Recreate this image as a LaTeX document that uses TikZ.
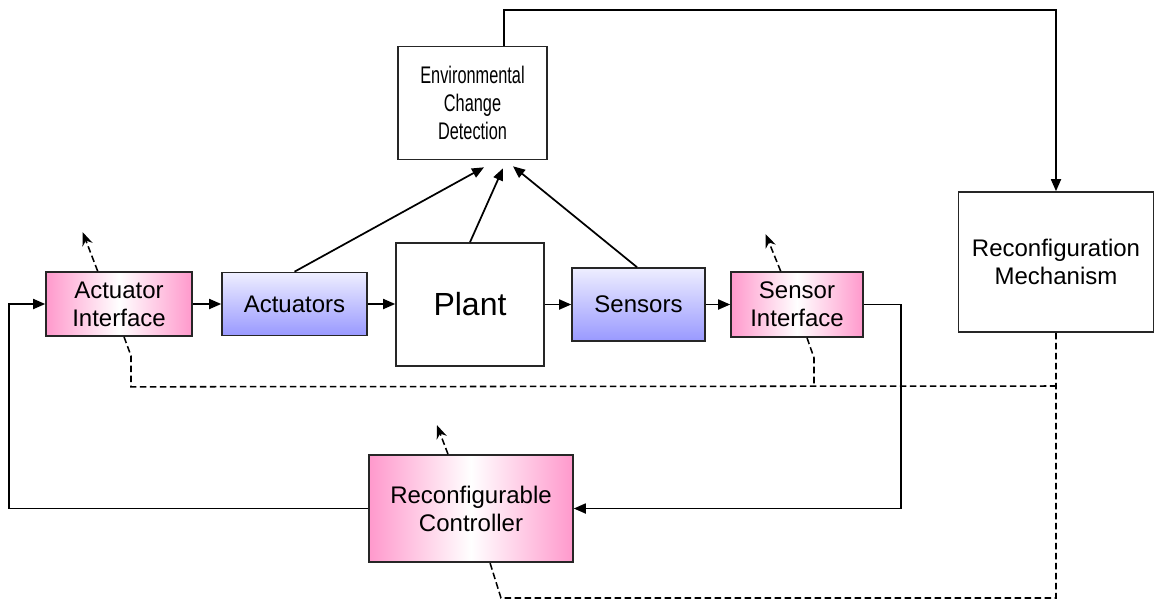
\documentclass[tikz,border=0pt]{standalone}
\usepackage{fontspec}
\setmainfont{Liberation Sans}
\usepackage{graphicx}
\usetikzlibrary{arrows.meta,calc}
\definecolor{pinkc}{HTML}{FF99CC}
\definecolor{bluec}{HTML}{9999FF}
\definecolor{bluel}{HTML}{EEEEFF}
\newcommand{\cond}[1]{\scalebox{0.68}[1]{#1}}
\begin{document}
\begin{tikzpicture}[x=0.75pt,y=-0.75pt,
  box/.style={draw=black!85, line width=1.2pt, align=center, inner sep=0pt,
    font=\fontsize{18}{21}\selectfont, text=black},
  pinkbox/.style={box, left color=pinkc, right color=pinkc, middle color=white},
  bluebox/.style={box, top color=bluel, bottom color=bluec},
  wire/.style={line width=1.3pt, -{Triangle[length=9pt,width=7.5pt]}},
  ctl/.style={line width=1.15pt, dash pattern=on 5pt off 2.5pt},
  ctlarrow/.style={ctl, -{Stealth[length=10pt,width=8pt]}}]
\useasboundingbox (0,0) rectangle (1160,600);

% nodes
\node[box, minimum width=111.75pt, minimum height=84.75pt] (env) at (472.5,103)
  {\cond{Environmental}\\\cond{Change}\\\cond{Detection}};
\node[box, minimum width=146.25pt, minimum height=105pt] (recm) at (1056,262)
  {Reconfiguration\\Mechanism};
\node[pinkbox, minimum width=109.5pt, minimum height=48pt] (actI) at (119,304)
  {Actuator\\Interface};
\node[bluebox, minimum width=108.75pt, minimum height=47.25pt] (act) at (294.5,304)
  {Actuators};
\node[box, minimum width=111pt, minimum height=92.25pt, font=\fontsize{24}{28}\selectfont] (plant) at (470,304.5)
  {Plant};
\node[bluebox, minimum width=99.75pt, minimum height=54.75pt] (sens) at (638.5,304.5)
  {Sensors};
\node[pinkbox, minimum width=99pt, minimum height=48.75pt] (sensI) at (797,304.5)
  {Sensor\\Interface};
\node[pinkbox, minimum width=153pt, minimum height=80.25pt] (ctrl) at (471,508.5)
  {Reconfigurable\\Controller};

% forward chain
\draw[wire] (actI.east) -- (act.west);
\draw[wire] (act.east) -- (plant.west |- act.east);
\draw[wire] (plant.east |- sens.west) -- (sens.west);
\draw[wire] (sens.east) -- (sensI.west);

% to environmental change detection
\draw[wire] (act.north) -- ($(env.south)+(11.5,7)$);
\draw[wire] (plant.north) -- ($(env.south)+(30.5,8)$);
\draw[wire] ($(sens.north)+(-1.5,0)$) -- ($(env.south)+(40.5,6)$);

% detection to reconfiguration mechanism
\draw[wire] ($(env.north)+(31.5,0)$) -- ++(0,-36) -| (recm.north);

% feedback loop
\draw[wire] (sensI.east) -- ++(37,0) |- (ctrl.east);
\draw[wire] (ctrl.west) -- ++(-359,0) |- (actI.west);

% reconfiguration (dashed) signals
\draw[ctl] (recm.south) -- (recm.south |- 0,598) -- (501,598) -- ($(ctrl.south)+(19,0)$);
\draw[ctl] ($(actI.south)+(5,0)$) -- ++(7,19) -- ++(0,31) -- (recm.south |- 0,386);
\draw[ctl] ($(sensI.south)+(10,0)$) -- ++(7,20) -- ++(0,29);

\draw[ctlarrow] ($(actI.north)+(-21.3,0)$) -- ++(-15,-39);
\draw[ctlarrow] ($(sensI.north)+(-16.3,0)$) -- ++(-15,-37);
\draw[ctlarrow] ($(ctrl.north)+(-23,0)$) -- ++(-11,-29);
\end{tikzpicture}
\end{document}
